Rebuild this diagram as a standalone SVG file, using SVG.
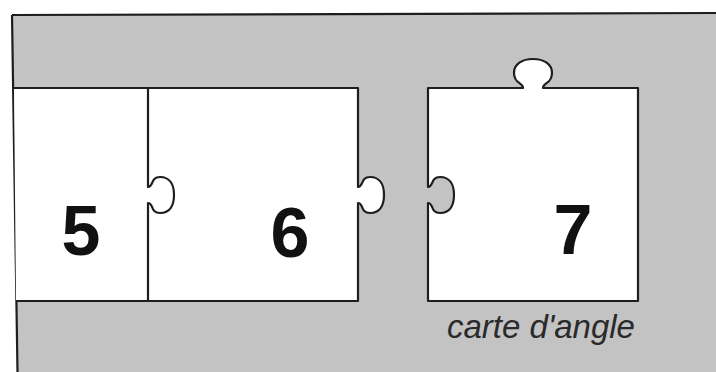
<svg xmlns="http://www.w3.org/2000/svg" width="716" height="372" viewBox="0 0 716 372">
<style>
.piece{fill:#ffffff;stroke:#1e1e1e;stroke-width:2.2;stroke-linejoin:round}
.line{fill:none;stroke:#1e1e1e;stroke-width:2.2;stroke-linejoin:round}
.num{font-family:"Liberation Sans",Arial,sans-serif;font-weight:bold;font-size:70px;fill:#111;text-anchor:middle}
.cap{font-family:"Liberation Sans",Arial,sans-serif;font-style:italic;font-size:33px;fill:#2a2a2a}
</style>
<rect x="0" y="0" width="716" height="372" fill="#ffffff"/>
<g id="panel">
<polygon points="12,15 716,13 716,372 17.5,372" fill="#c3c3c3"/>
<path class="line" d="M12,15 L716,13 M12,15 L17.5,372" stroke-width="2.6"/>
</g>
<g id="piece-5-6">
<path class="piece" d="M14,88 L358,88 L358,187 C364,187 360,177 370,177 C380,177 384,185 384,195 C384,205 380,213 370,213 C360,213 364,203 358,203 L358,301 L16,301"/>
</g>
<g id="connectors">
<path class="line" d="M148,88 L148,187 C154,187 150,177 160,177 C170,177 174,185 174,195 C174,205 170,213 160,213 C150,213 154,203 148,203 L148,301"/>
</g>
<g id="piece-5">
<text class="num" x="81" y="255">5</text>
</g>
<g id="piece-6">
<text class="num" x="290" y="257">6</text>
</g>
<g id="piece-7">
<path class="piece" d="M428,88 L523,88 C523,82 514,84 514,73 C514,64 522,59 533,59 C544,59 552,64 552,73 C552,84 543,82 543,88 L638,88 L638,301 L428,301 L428,203 C434,203 430,213 440,213 C450,213 454,205 454,195 C454,185 450,177 440,177 C430,177 434,187 428,187 Z"/>
<text class="num" x="573" y="254">7</text>
<text class="cap" x="447" y="338">carte d'angle</text>
</g>
</svg>
